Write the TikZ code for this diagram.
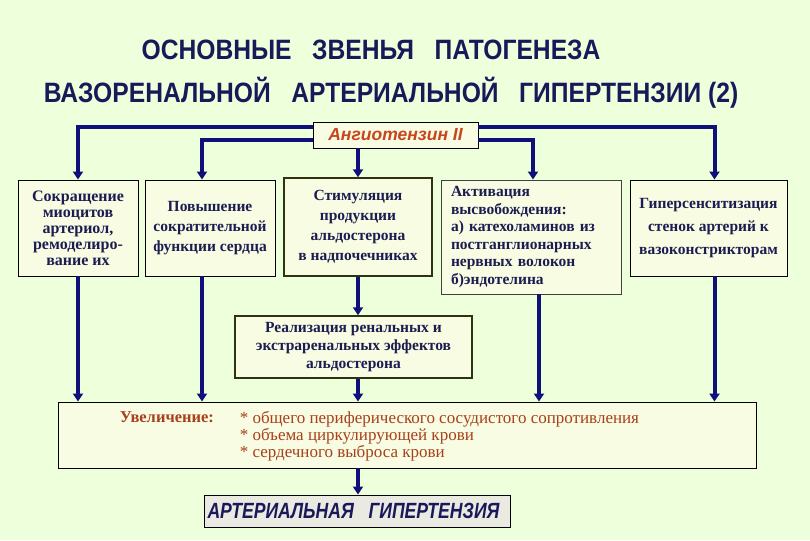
\documentclass[tikz,border=0pt]{standalone}
\usepackage{fontspec}
\setmainfont{Liberation Serif}
\newfontfamily\headfont{Liberation Sans}
\newfontfamily\titlefont[FakeStretch=0.88]{Liberation Sans}
\newfontfamily\resultfont[FakeStretch=0.8]{Liberation Sans}
\usetikzlibrary{arrows.meta,calc}

\definecolor{pageBg}{HTML}{EEFFDC}
\definecolor{boxFill}{HTML}{F7FCE3}
\definecolor{finalFill}{HTML}{EAEAE2}
\definecolor{navyLine}{HTML}{10107A}
\definecolor{navyText}{HTML}{1C1C50}
\definecolor{titleNavy}{HTML}{19195A}
\definecolor{brickText}{HTML}{A8401A}
\definecolor{angText}{HTML}{C8461E}
\definecolor{oliveEdge}{HTML}{2E3314}

\begin{document}
\begin{tikzpicture}[
        x=1pt, y=1pt,
        effectBox/.style={
            draw=black,
            fill=boxFill,
            line width=0.9pt,
            inner sep=2pt,
            align=center,
            text=navyText,
            font=\bfseries\fontsize{15.5}{18}\selectfont
        },
        link/.style={
            -{Triangle[length=8pt,width=10pt]},
            line width=4pt,
            draw=navyLine
        },
        titleText/.style={
            font=\titlefont\bfseries\fontsize{28}{32}\selectfont,
            text=titleNavy,
            anchor=base
        },
        listText/.style={
            text=brickText,
            font=\fontsize{17}{17}\selectfont,
            inner sep=0pt,
            align=left
        }
    ]

        % Page
        \fill[pageBg] (0,0) rectangle (810,540);
        \useasboundingbox (0,0) rectangle (810,540);

        % Title
        \node[titleText] (title1) at (371,480) {ОСНОВНЫЕ~~~ЗВЕНЬЯ~~~ПАТОГЕНЕЗА};
        \node[titleText] (title2) at (391,437) {ВАЗОРЕНАЛЬНОЙ~~~АРТЕРИАЛЬНОЙ~~~ГИПЕРТЕНЗИИ (2)};

        % Angiotensin II
        \node[
            effectBox,
            minimum width=165, minimum height=26,
            text=angText,
            font=\headfont\bfseries\itshape\fontsize{17.5}{18}\selectfont
        ] (ang) at (395.5,405) {Ангиотензин II};

        % Effects of angiotensin II
        \node[effectBox, minimum width=120, minimum height=96,
            font=\bfseries\fontsize{16}{16}\selectfont]
            (myo) at (78,312)
            {Сокращение\\миоцитов\\артериол,\\ремоделиро-\\вание их};
        \node[effectBox, minimum width=130, minimum height=96,
            font=\bfseries\fontsize{15.5}{20}\selectfont]
            (heart) at (210,312)
            {Повышение\\сократительной\\функции сердца};
        \node[effectBox, minimum width=148, minimum height=98,
            draw=oliveEdge, line width=1.4pt,
            font=\bfseries\fontsize{15.5}{20}\selectfont]
            (aldo) at (358,313)
            {Стимуляция\\продукции\\альдостерона\\в надпочечниках};
        \node[effectBox, minimum width=180, minimum height=114,
            text width=160, align=left, draw=black!75,
            font=\bfseries\fontsize{15.5}{17.5}\selectfont]
            (release) at (531,303)
            {Активация\\высвобождения:\\а) катехоламинов из\\постганглионарных\\нервных волокон\\б)эндотелина};
        \node[effectBox, minimum width=157, minimum height=96,
            font=\bfseries\fontsize{15.5}{23}\selectfont]
            (sens) at (708.5,312)
            {Гиперсенситизация\\стенок артерий к\\вазоконстрикторам};

        % Aldosterone effects
        \node[effectBox, minimum width=237, minimum height=62,
            draw=oliveEdge, line width=1.4pt,
            font=\bfseries\fontsize{15.5}{18}\selectfont]
            (renal) at (353.5,193)
            {Реализация ренальных и\\экстраренальных эффектов\\альдостерона};

        % Increase box
        \node[effectBox, minimum width=698, minimum height=66] (incr) at (407,105) {};
        \node[listText, font=\bfseries\fontsize{16.5}{17}\selectfont, anchor=north west]
            (incrLabel) at ($(incr.north west)+(62,-10)$) {Увеличение:};
        \node[listText, anchor=north west]
            (incrList) at ($(incr.north west)+(182,-10)$)
            {* общего периферического сосудистого сопротивления\\
             * объема циркулирующей крови\\
             * сердечного выброса крови};

        % Result
        \node[
            draw=black, fill=finalFill, line width=0.9pt,
            minimum height=32, text width=300, align=left, inner xsep=3pt,
            text=titleNavy,
            font=\resultfont\bfseries\itshape\fontsize{22}{24}\selectfont
        ] (result) at (357.5,29) {АРТЕРИАЛЬНАЯ~~ГИПЕРТЕНЗИЯ};

        % Angiotensin II pointers
        \draw[link] ($(ang.west)+(0,8)$) -| (myo.north);
        \draw[link] ($(ang.west)+(0,-5)$) -| ($(heart.north)+(-8,0)$);
        \draw[link] ($(ang.east)+(0,8)$) -| ($(sens.north)+(6,0)$);
        \draw[link] ($(ang.east)+(0,-5)$) -| ($(release.north)+(2,0)$);
        \draw[link] (ang.south -| aldo.north) -- (aldo.north);

        % Pointers into the increase box
        \draw[link] (myo.south) -- (myo.south |- incr.north);
        \draw[link] ($(heart.south)+(-8,0)$) -- ($(heart.south |- incr.north)+(-8,0)$);
        \draw[link] (aldo.south) -- (aldo.south |- renal.north);
        \draw[link] (renal.south -| aldo.south) -- (aldo.south |- incr.north);
        \draw[link] ($(release.south)+(8,0)$) -- ($(release.south |- incr.north)+(8,0)$);
        \draw[link] ($(sens.south)+(6,0)$) -- ($(sens.south |- incr.north)+(6,0)$);

        % Result pointer
        \draw[link] (incr.south -| aldo.south) -- (aldo.south |- result.north);

    \end{tikzpicture}
\end{document}
